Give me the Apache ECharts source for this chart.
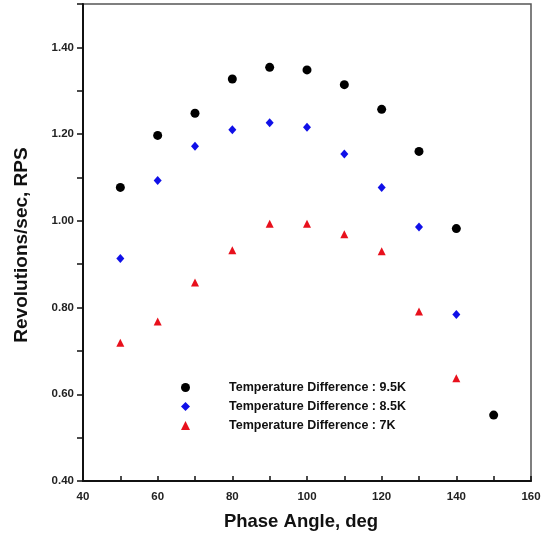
<!DOCTYPE html>
<html>
<head>
<meta charset="utf-8">
<title>Revolutions vs Phase Angle</title>
<script src="https://cdn.jsdelivr.net/npm/echarts@6/dist/echarts.min.js"></script>
<style>
  html, body { margin: 0; padding: 0; background: #fff; }
  #chart { width: 546px; height: 536px; }
</style>
</head>
<body>
<div id="chart"></div>
<script>
// Phase angle (deg) for each measurement
const phaseAngles = [50, 60, 70, 80, 90, 100, 110, 120, 130, 140, 150];

// Revolutions per second for each temperature difference
const rps95K = [1.077, 1.197, 1.248, 1.327, 1.354, 1.348, 1.314, 1.257, 1.160, 0.982, 0.552];
const rps85K = [0.913, 1.093, 1.172, 1.210, 1.226, 1.216, 1.154, 1.077, 0.986, 0.784];
const rps7K  = [0.719, 0.768, 0.858, 0.932, 0.993, 0.993, 0.969, 0.930, 0.791, 0.637];

const seriesNames = [
  'Temperature Difference : 9.5K',
  'Temperature Difference : 8.5K',
  'Temperature Difference : 7K'
];

function pairs(xs, ys) {
  return ys.map((y, i) => [xs[i], y]);
}

const FONT = '"Liberation Sans", Arial, sans-serif';

const chart = echarts.init(document.getElementById('chart'), null, { renderer: 'canvas' });

chart.setOption({
  backgroundColor: '#ffffff',
  animation: false,
  grid: {
    left: 83, right: 15, top: 4, bottom: 55,
    show: true,
    borderColor: '#555555',
    borderWidth: 1.5,
    backgroundColor: 'transparent'
  },
  legend: {
    orient: 'vertical',
    left: 176,
    top: 376,
    itemWidth: 9,
    itemHeight: 9,
    itemGap: 6,
    selectedMode: false,
    data: seriesNames,
    textStyle: {
      fontFamily: FONT,
      fontWeight: 'bold',
      fontSize: 12.5,
      lineHeight: 13,
      color: '#111',
      padding: [0, 0, 0, 34]
    }
  },
  xAxis: {
    type: 'value',
    min: 40, max: 160, interval: 10,
    name: 'Phase Angle, deg',
    nameLocation: 'middle',
    nameGap: 31,
    nameTextStyle: {
      fontFamily: FONT, fontWeight: 'bold', fontSize: 18.5, color: '#111',
      padding: [0, 12, 0, 0]
    },
    axisLine: { show: true, lineStyle: { color: '#111', width: 2 } },
    axisTick: { show: true, inside: true, length: 5, lineStyle: { color: '#111', width: 1.5 } },
    axisLabel: {
      fontFamily: FONT, fontWeight: 'bold', fontSize: 11.5, color: '#222', margin: 10,
      formatter: v => (Math.round(v) % 20 === 0 ? String(Math.round(v)) : '')
    },
    splitLine: { show: false }
  },
  yAxis: {
    type: 'value',
    min: 0.4, max: 1.5, interval: 0.1,
    name: 'Revolutions/sec, RPS',
    nameLocation: 'middle',
    nameGap: 52,
    nameTextStyle: {
      fontFamily: FONT, fontWeight: 'bold', fontSize: 19, color: '#111',
      padding: [0, 5, 0, 0]
    },
    axisLine: { show: true, lineStyle: { color: '#111', width: 2 } },
    axisTick: { show: true, inside: false, length: 6, lineStyle: { color: '#111', width: 1.5 } },
    axisLabel: {
      fontFamily: FONT, fontWeight: 'bold', fontSize: 11.5, color: '#222', margin: 9,
      formatter: v => {
        const k = Math.round(v * 10);
        return (k % 2 === 0 && k <= 14) ? (k / 10).toFixed(2) : '';
      }
    },
    splitLine: { show: false }
  },
  series: [
    {
      name: seriesNames[0], type: 'scatter',
      symbol: 'circle', symbolSize: 9,
      itemStyle: { color: '#000000', opacity: 1 },
      data: pairs(phaseAngles, rps95K)
    },
    {
      name: seriesNames[1], type: 'scatter',
      symbol: 'diamond', symbolSize: [8, 9],
      itemStyle: { color: '#1010e8', opacity: 1 },
      data: pairs(phaseAngles, rps85K)
    },
    {
      name: seriesNames[2], type: 'scatter',
      symbol: 'triangle', symbolSize: [8, 8],
      itemStyle: { color: '#e8101c', opacity: 1 },
      data: pairs(phaseAngles, rps7K)
    }
  ]
});
</script>
</body>
</html>
